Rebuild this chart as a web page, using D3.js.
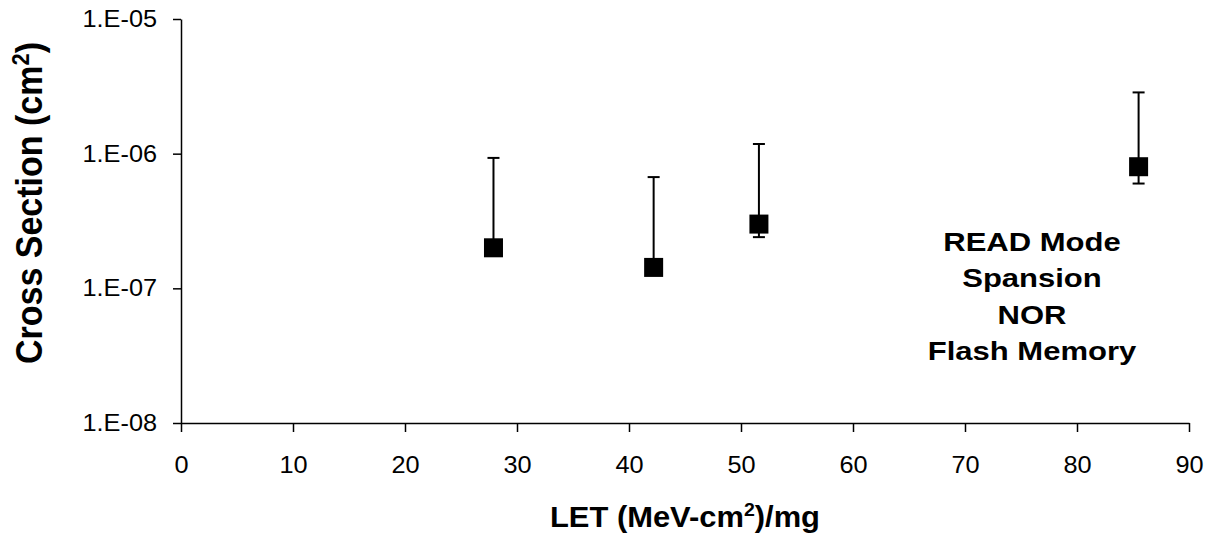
<!DOCTYPE html>
<html lang="en">
  <head>
    <meta charset="utf-8" />
    <title>Cross Section vs LET</title>
    <style>
      body {
        margin: 0;
        background: #fff;
        font-family: "Liberation Sans", Arial, sans-serif;
      }
      svg {
        display: block;
      }
      .axis path,
      .axis line {
        stroke: #000;
        stroke-width: 1.5px;
      }
      .axis text {
        fill: #000;
        font-size: 23px;
        font-family: "Liberation Sans", Arial, sans-serif;
      }
      .title {
        font-weight: bold;
        fill: #000;
      }
    </style>
  </head>
  <body>
    <svg id="chart" width="1215" height="535"></svg>

    <script src="https://d3js.org/d3.v7.min.js"></script>
    <script>
      // values
      const letValues = [27.9, 42.2, 51.6, 85.5];
      const crossSection = [2.0e-7, 1.43e-7, 3.0e-7, 8.0e-7];
      const errUpper = [9.3e-7, 6.7e-7, 1.18e-6, 2.85e-6];
      const errLower = [null, null, 2.4e-7, 6.0e-7];
      const xTicks = [0, 10, 20, 30, 40, 50, 60, 70, 80, 90];
      const yTicks = [1e-8, 1e-7, 1e-6, 1e-5];
      const noteLines = ["READ Mode", "Spansion", "NOR", "Flash Memory"];

      const width = 1215;
      const height = 535;
      const plot = { left: 181, right: 1189, top: 19, bottom: 423 };

      const svg = d3.select("#chart");

      const x = d3.scaleLinear().domain([0, 90]).range([plot.left, plot.right]);
      const y = d3
        .scaleLog()
        .domain([1e-8, 1e-5])
        .range([plot.bottom, plot.top]);

      const fmtExp = (v) => {
        const e = Math.round(Math.log10(v));
        const s = String(Math.abs(e)).padStart(2, "0");
        return "1.E" + (e < 0 ? "-" : "+") + s;
      };

      // stretch a text horizontally around its own anchor
      function stretchX(sel, k) {
        sel.each(function () {
          const t = d3.select(this);
          const ax = +t.attr("x") || 0;
          t.attr(
            "transform",
            `translate(${ax},0) scale(${k},1) translate(${-ax},0)`
          );
        });
      }

      // x axis
      const gx = svg
        .append("g")
        .attr("class", "axis")
        .attr("transform", `translate(0,${plot.bottom})`)
        .call(
          d3
            .axisBottom(x)
            .tickValues(xTicks)
            .tickSizeInner(9)
            .tickSizeOuter(0)
            .tickPadding(25)
            .tickFormat(d3.format("d"))
        );
      gx.selectAll("text").call(stretchX, 1.1);

      // y axis
      const gy = svg
        .append("g")
        .attr("class", "axis")
        .attr("transform", `translate(${plot.left},0)`)
        .call(
          d3
            .axisLeft(y)
            .tickValues(yTicks)
            .tickSizeInner(8)
            .tickSizeOuter(0)
            .tickPadding(16)
            .tickFormat(fmtExp)
        );
      gy.selectAll("text").call(stretchX, 1.1);

      const points = letValues.map((v, i) => ({
        x: v,
        y: crossSection[i],
        hi: errUpper[i],
        lo: errLower[i],
      }));

      // error bars
      const capW = 12;
      const bars = svg.append("g").attr("stroke", "#000").attr("stroke-width", 2);
      points.forEach((p) => {
        if (p.hi != null) {
          bars
            .append("line")
            .attr("x1", x(p.x))
            .attr("x2", x(p.x))
            .attr("y1", y(p.y))
            .attr("y2", y(p.hi));
          bars
            .append("line")
            .attr("x1", x(p.x) - capW / 2)
            .attr("x2", x(p.x) + capW / 2)
            .attr("y1", y(p.hi))
            .attr("y2", y(p.hi));
        }
        if (p.lo != null) {
          bars
            .append("line")
            .attr("x1", x(p.x))
            .attr("x2", x(p.x))
            .attr("y1", y(p.y))
            .attr("y2", y(p.lo));
          bars
            .append("line")
            .attr("x1", x(p.x) - capW / 2)
            .attr("x2", x(p.x) + capW / 2)
            .attr("y1", y(p.lo))
            .attr("y2", y(p.lo));
        }
      });

      // square markers
      const ms = 19;
      svg
        .append("g")
        .selectAll("rect")
        .data(points)
        .join("rect")
        .attr("x", (d) => x(d.x) - ms / 2)
        .attr("y", (d) => y(d.y) - ms / 2)
        .attr("width", ms)
        .attr("height", ms)
        .attr("fill", "#000");

      // annotation
      svg
        .append("g")
        .selectAll("text")
        .data(noteLines)
        .join("text")
        .attr("class", "title")
        .attr("x", 1032)
        .attr("y", (d, i) => 250.7 + i * 36.5)
        .attr("text-anchor", "middle")
        .attr("font-size", 26.5)
        .text((d) => d)
        .call(stretchX, 1.17);

      // x title
      const xt = svg
        .append("text")
        .attr("class", "title")
        .attr("x", 685)
        .attr("y", 527)
        .attr("text-anchor", "middle")
        .attr("font-size", 30);
      xt.append("tspan").text("LET (MeV-cm");
      xt.append("tspan").attr("dy", -11).attr("font-size", 19).text("2");
      xt.append("tspan").attr("dy", 11).text(")/mg");
      stretchX(xt, 1.03);

      // y title
      const yt = svg
        .append("text")
        .attr("class", "title")
        .attr("text-anchor", "middle")
        .attr("font-size", 34)
        .attr("transform", "translate(42,203) rotate(-90) scale(1,1.1)");
      yt.append("tspan").text("Cross Section (cm");
      yt.append("tspan").attr("dy", -12).attr("font-size", 22).text("2");
      yt.append("tspan").attr("dy", 12).text(")");
    </script>
  </body>
</html>
